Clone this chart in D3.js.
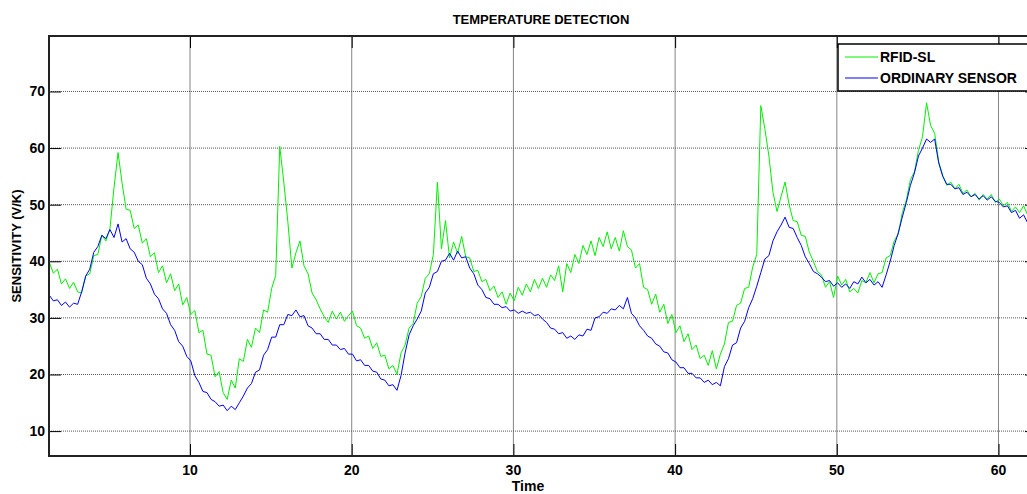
<!DOCTYPE html>
<html>
<head>
<meta charset="utf-8">
<script src="https://cdn.jsdelivr.net/npm/d3@7"></script>
<style>
  body { margin: 0; background: #fff; }
  text { font-family: "Liberation Sans", Arial, sans-serif; font-weight: bold; }
</style>
</head>
<body>
<div id="chart"></div>
<script>
// sampled every 0.25 time units, starting at t = 1.3
const t0 = 1.3, dt = 0.25;

const rfid = [
  39.8,37.9,38.6,36.0,36.9,35.2,36.3,34.6,34.4,37.4,
  37.8,41.0,41.2,44.6,43.6,45.8,53.0,59.2,53.8,49.2,
  49.0,45.8,46.4,43.2,44.0,40.8,41.5,38.0,39.2,36.2,
  37.8,34.8,36.0,32.3,33.6,30.6,31.3,27.4,27.8,23.6,
  23.4,19.6,20.5,16.8,15.6,19.0,17.6,22.8,22.3,26.2,
  24.8,28.2,27.4,31.4,31.0,35.2,37.5,60.3,54.0,47.0,
  38.8,41.5,43.6,39.2,37.8,34.4,33.2,31.6,30.2,29.2,
  31.2,29.8,31.0,29.4,30.4,31.2,28.6,28.2,26.4,26.8,
  24.6,25.6,23.2,23.4,21.0,21.6,20.0,23.8,25.2,28.2,
  29.0,32.6,33.8,37.0,37.8,41.2,54.0,42.2,47.2,40.6,
  43.4,41.4,44.4,40.8,40.6,38.2,38.4,36.4,36.8,34.8,
  35.6,33.6,34.6,32.4,34.4,33.0,35.4,34.0,36.0,34.6,
  36.8,35.2,37.0,35.4,37.6,36.6,39.2,34.6,39.6,38.0,
  41.2,39.6,42.8,41.2,43.6,41.0,44.2,42.6,45.2,42.2,
  44.2,41.8,45.4,42.6,42.0,38.8,39.6,35.4,35.0,32.4,
  34.2,31.0,32.4,29.0,30.6,27.4,28.6,25.8,27.2,24.4,
  25.2,22.8,23.4,21.6,24.2,21.0,23.6,25.4,29.2,29.4,
  32.2,32.6,35.2,35.4,39.0,41.2,67.5,63.4,58.6,52.2,
  48.8,51.4,54.0,50.0,47.2,47.0,44.6,44.4,41.6,40.0,
  38.2,37.6,35.4,36.4,33.6,37.4,35.8,36.8,34.6,35.2,
  34.4,36.6,36.2,38.0,36.2,37.8,38.0,40.6,41.0,43.6,
  44.8,48.6,50.8,54.4,55.8,59.6,62.0,68.0,64.0,62.6,
  57.6,55.2,53.4,54.0,52.8,53.6,52.0,52.6,51.4,52.0,
  50.8,51.8,51.0,51.8,50.4,51.0,49.8,50.4,48.8,49.6,
  48.6,49.8,48.2,48.8,47.8
];

const ordinary = [
  34.0,33.0,33.2,32.2,32.8,31.9,32.6,32.4,34.6,37.4,
  38.6,41.6,42.6,44.6,44.0,45.6,44.2,46.6,43.4,44.0,
  42.2,41.6,40.0,39.4,37.0,36.0,34.2,33.4,31.6,30.8,
  28.8,27.8,25.8,25.0,23.2,22.4,19.8,18.6,17.0,16.8,
  15.6,15.2,14.4,14.6,13.6,14.4,13.8,15.0,16.2,17.6,
  18.4,20.4,20.8,23.4,24.4,26.6,26.6,28.8,28.8,30.6,
  30.4,31.4,30.2,30.4,28.6,28.2,27.2,27.2,26.2,26.2,
  25.2,25.2,24.4,24.6,23.6,23.6,22.4,22.6,21.6,21.6,
  20.6,20.4,19.2,19.0,18.0,18.2,17.2,19.8,23.8,27.0,
  28.6,29.8,31.2,34.4,35.4,37.8,38.2,40.0,40.2,41.4,
  40.2,41.8,40.6,40.8,38.8,37.8,35.8,35.0,33.6,33.4,
  32.4,32.4,31.8,32.0,31.2,31.4,30.8,31.2,30.8,31.0,
  30.4,30.6,29.8,29.2,28.2,28.0,27.2,27.4,26.4,26.8,
  26.2,27.0,26.8,28.0,27.8,30.0,30.2,31.0,30.8,31.6,
  31.4,32.2,31.6,33.6,30.8,30.0,28.6,27.8,26.8,26.4,
  25.4,25.0,24.0,23.8,22.6,22.2,21.2,21.2,20.2,20.2,
  19.4,19.4,18.6,19.0,18.2,18.6,18.0,21.4,22.8,25.2,
  25.6,28.2,29.4,31.8,33.4,35.6,38.0,40.4,41.0,43.6,
  45.2,46.4,47.8,46.0,45.8,44.2,42.8,40.8,39.6,38.2,
  37.8,37.2,36.4,36.6,35.6,36.2,35.4,36.0,35.2,36.4,
  36.0,37.2,36.2,36.8,35.8,36.4,35.4,37.6,40.0,42.8,
  45.0,47.8,50.4,53.4,55.6,58.6,60.0,61.6,61.0,61.6,
  57.4,55.0,53.6,53.6,52.8,53.0,51.8,52.2,51.4,51.8,
  51.0,51.6,50.8,51.4,50.6,50.4,49.6,49.8,48.6,49.0,
  47.6,48.2,46.8,47.4,46.6
];

const xTicks = [10, 20, 30, 40, 50, 60];
const yTicks = [10, 20, 30, 40, 50, 60, 70];
const seriesNames = ['RFID-SL', 'ORDINARY SENSOR'];
const seriesColors = ['#00f000', '#0000ff'];

const width = 1027, height = 494;
const plotL = 49, plotR = 1037, plotT = 36, plotB = 456;

const svg = d3.select('#chart').append('svg')
    .attr('width', width)
    .attr('height', height);

const x = d3.scaleLinear().domain([1.28, 62.38]).range([plotL, plotR]);
const y = d3.scaleLinear().domain([5.6, 79.8]).range([plotB, plotT]);

svg.append('defs').append('clipPath').attr('id', 'plot')
    .append('rect')
    .attr('x', plotL).attr('y', plotT)
    .attr('width', plotR - plotL).attr('height', plotB - plotT);

// grid
svg.append('g').selectAll('line').data(xTicks).enter().append('line')
    .attr('x1', d => x(d)).attr('x2', d => x(d))
    .attr('y1', plotT).attr('y2', plotB)
    .attr('stroke', '#666').attr('stroke-width', 0.8);
svg.append('g').selectAll('line').data(yTicks).enter().append('line')
    .attr('x1', plotL).attr('x2', plotR)
    .attr('y1', d => y(d)).attr('y2', d => y(d))
    .attr('stroke', '#555').attr('stroke-dasharray', '1,1');

// series
const line = d3.line()
    .x((d, i) => x(t0 + i * dt))
    .y(d => y(d));

[rfid, ordinary].forEach(function(s, k) {
    svg.append('path')
        .datum(s)
        .attr('clip-path', 'url(#plot)')
        .attr('fill', 'none')
        .attr('stroke', seriesColors[k])
        .attr('stroke-width', 1)
        .attr('d', line);
});

// axes, ticks pointing inward like matlab
const tickLen = 12;
svg.append('g').attr('transform', 'translate(0,' + plotB + ')')
    .call(d3.axisTop(x).tickValues(xTicks).tickSize(tickLen).tickFormat(''));
svg.append('g').attr('transform', 'translate(0,' + plotT + ')')
    .call(d3.axisBottom(x).tickValues(xTicks).tickSize(tickLen).tickFormat(''));
svg.append('g').attr('transform', 'translate(' + plotL + ',0)')
    .call(d3.axisRight(y).tickValues(yTicks).tickSize(tickLen).tickFormat(''));
svg.append('g').attr('transform', 'translate(' + plotR + ',0)')
    .call(d3.axisLeft(y).tickValues(yTicks).tickSize(tickLen).tickFormat(''));
svg.selectAll('.domain').remove();
svg.selectAll('.tick line').attr('stroke', '#000');

svg.append('rect')
    .attr('x', plotL).attr('y', plotT)
    .attr('width', plotR - plotL).attr('height', plotB - plotT)
    .attr('fill', 'none').attr('stroke', '#222').attr('stroke-width', 2);

// tick labels
svg.append('g').selectAll('text').data(xTicks).enter().append('text')
    .attr('x', d => x(d)).attr('y', plotB + 19)
    .attr('text-anchor', 'middle')
    .style('font-size', '14px')
    .text(d => d);
svg.append('g').selectAll('text').data(yTicks).enter().append('text')
    .attr('x', plotL - 4).attr('y', d => y(d) + 5)
    .attr('text-anchor', 'end')
    .style('font-size', '14px')
    .text(d => d);

// titles
svg.append('text')
    .attr('x', 541).attr('y', 24)
    .attr('text-anchor', 'middle')
    .style('font-size', '13px')
    .text('TEMPERATURE DETECTION');
svg.append('text')
    .attr('x', 528).attr('y', 491)
    .attr('text-anchor', 'middle')
    .style('font-size', '14px')
    .text('Time');
svg.append('text')
    .attr('transform', 'translate(21,' + (plotT + plotB) / 2 + ')rotate(-90)')
    .attr('text-anchor', 'middle')
    .style('font-size', '13px')
    .text('SENSITIVITY (V/K)');

// legend
const legend = svg.append('g');
legend.append('rect')
    .attr('x', 838).attr('y', 44)
    .attr('width', 200).attr('height', 47)
    .attr('fill', '#fff').attr('stroke', '#000').attr('stroke-width', 1.5);
seriesNames.forEach(function(name, k) {
    legend.append('line')
        .attr('x1', 845).attr('x2', 878)
        .attr('y1', 57 + k * 21).attr('y2', 57 + k * 21)
        .attr('stroke', seriesColors[k]);
    legend.append('text')
        .attr('x', 880).attr('y', 62 + k * 21)
        .style('font-size', '14px')
        .text(name);
});
</script>
</body>
</html>
